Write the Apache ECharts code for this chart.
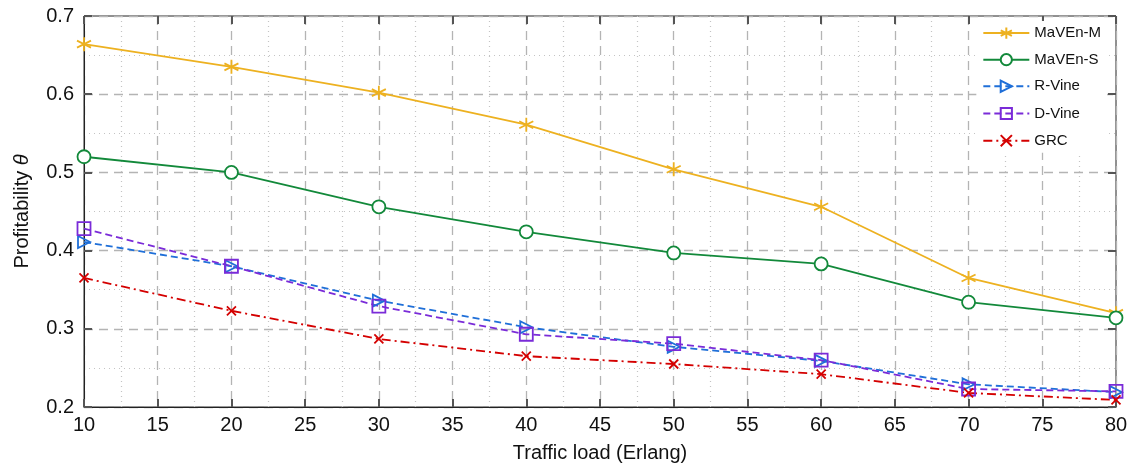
<!DOCTYPE html>
<html><head><meta charset="utf-8">
<script src="https://cdn.jsdelivr.net/npm/echarts@6/dist/echarts.min.js"></script>
<style>html,body{margin:0;padding:0;background:#fff}#c{width:1133px;height:471px}</style>
</head><body><div id="c"></div>
<script>
const loads = [10, 20, 30, 40, 50, 60, 70, 80];
const mavenM = [0.664, 0.635, 0.602, 0.561, 0.504, 0.456, 0.365, 0.320];
const mavenS = [0.520, 0.500, 0.456, 0.424, 0.397, 0.383, 0.334, 0.314];
const rVine  = [0.411, 0.380, 0.336, 0.302, 0.277, 0.259, 0.229, 0.219];
const dVine  = [0.428, 0.380, 0.329, 0.293, 0.281, 0.260, 0.223, 0.220];
const grc    = [0.365, 0.323, 0.287, 0.265, 0.255, 0.242, 0.218, 0.209];
const names = ['MaVEn-M', 'MaVEn-S', 'R-Vine', 'D-Vine', 'GRC'];

const FONT = 'Liberation Sans, Arial, sans-serif';
const pair = v => loads.map((x, i) => [x, v[i]]);
const star = 'path://M0,-10L0,10M-8.66,-5L8.66,5M-8.66,5L8.66,-5';
const tri = 'path://M-8,-9L9,0L-8,9Z';
const cross = 'path://M-10,-10L10,10M-10,10L10,-10';

function mk(name, data, color, symbol, size, lineType, fill) {
  return {
    name, type: 'line', data: pair(data), symbol, symbolSize: size,
    showAllSymbol: true,
    lineStyle: { color, width: 1.8, type: lineType },
    itemStyle: { color: fill, borderColor: color, borderWidth: 1.8 },
    emphasis: { disabled: true }, z: 3
  };
}
const series = [
  mk(names[0], mavenM, '#EDB120', star, 14, 'solid', 'none'),
  mk(names[1], mavenS, '#12893A', 'circle', 13, 'solid', '#fff'),
  mk(names[2], rVine, '#1F6FD8', tri, 12, [7, 4], 'none'),
  mk(names[3], dVine, '#7A2BD8', 'rect', 13, [7, 4], 'none'),
  mk(names[4], grc, '#D40000', cross, 9, [9, 4, 2, 4], 'none')
];

const grid = { left: 84, right: 17, top: 16, bottom: 64, show: true, borderColor: '#222', borderWidth: 1 };
const tickStyle = { show: true, inside: true, length: 8, lineStyle: { color: '#555', width: 2 } };
const chart = echarts.init(document.getElementById('c'), null, { renderer: 'canvas' });
chart.setOption({
  animation: false,
  backgroundColor: '#fff',
  grid,
  legend: {
    orient: 'vertical', right: 26, top: 21, itemGap: 11, itemWidth: 46, itemHeight: 14,
    backgroundColor: '#fff', padding: [4, 6, 4, 6],
    textStyle: { fontFamily: FONT, fontSize: 15, color: '#111' },
    data: names
  },
  xAxis: [{
    type: 'value', min: 10, max: 80, interval: 5,
    name: 'Traffic load (Erlang)', nameLocation: 'middle', nameGap: 36,
    nameTextStyle: { fontFamily: FONT, fontSize: 20, color: '#111' },
    axisLine: { lineStyle: { color: '#222', width: 1 } },
    axisTick: tickStyle,
    axisLabel: { fontFamily: FONT, fontSize: 20, color: '#111', margin: 8 },
    splitLine: { show: true, lineStyle: { color: '#b4b4b4', type: [9, 6], width: 1.3 } },
    minorTick: { show: false, splitNumber: 2 },
    minorSplitLine: { show: true, lineStyle: { color: '#c4c4c4', type: [1, 4], width: 1.2 } }
  }, {
    type: 'value', position: 'top', min: 10, max: 80, interval: 5,
    axisLine: { show: false }, axisTick: tickStyle, axisLabel: { show: false }, splitLine: { show: false }
  }],
  yAxis: [{
    type: 'value', min: 0.2, max: 0.7, interval: 0.1,
    name: 'Profitability {i|θ}', nameLocation: 'middle', nameGap: 52, nameRotate: 90,
    nameTextStyle: { fontFamily: FONT, fontSize: 20, color: '#111', rich: { i: { fontFamily: FONT, fontSize: 20, fontStyle: 'italic', color: '#111' } } },
    axisLine: { show: true, lineStyle: { color: '#222', width: 1 } },
    axisTick: tickStyle,
    axisLabel: { fontFamily: FONT, fontSize: 20, color: '#111', margin: 10, formatter: v => v.toFixed(1) },
    splitLine: { show: true, lineStyle: { color: '#b4b4b4', type: [9, 6], width: 1.3 } },
    minorTick: { show: false, splitNumber: 2 },
    minorSplitLine: { show: true, lineStyle: { color: '#c4c4c4', type: [1, 4], width: 1.2 } }
  }, {
    type: 'value', position: 'right', min: 0.2, max: 0.7, interval: 0.1,
    axisLine: { show: false }, axisTick: tickStyle, axisLabel: { show: false }, splitLine: { show: false }
  }],
  series
});
</script></body></html>
